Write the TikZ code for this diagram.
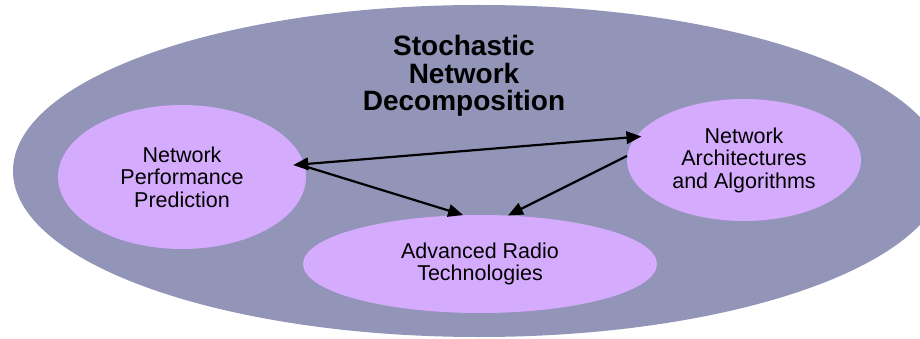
\documentclass[tikz,border=0pt]{standalone}
\usepackage{fontspec}
\setmainfont{Liberation Sans}
\usetikzlibrary{shapes.geometric,arrows.meta}
\definecolor{outerc}{RGB}{146,148,184}
\definecolor{innerc}{RGB}{213,171,253}
\tikzset{
  blob/.style={ellipse,fill=innerc,draw=none,inner sep=0pt,align=center,
    font=\fontsize{21.5}{22.5}\selectfont},
  tip/.tip={Triangle[length=15pt,width=12.5pt]},
  link/.style={line width=2.2pt,-tip},
  dlink/.style={line width=2.2pt,tip-tip}
}
\begin{document}
\begin{tikzpicture}[x=1pt,y=-1pt]
\useasboundingbox (0,0) rectangle (920,339);
\clip (0,0) rectangle (920,339);
\fill[white] (0,0) rectangle (920,339);
\fill[outerc] (479,171) ellipse [x radius=466, y radius=166];
\node[font=\fontsize{28}{27.5}\selectfont\bfseries,align=center] (title) at (464,76)
  {Stochastic\\Network\\Decomposition};
\node[blob,minimum width=248,minimum height=144] (L) at (182,177)
  {Network\\Performance\\Prediction};
\node[blob,minimum width=234,minimum height=122] (R) at (744,160)
  {Network\\Architectures\\and Algorithms};
\node[blob,minimum width=354,minimum height=98] (B) at (480,264)
  {Advanced Radio\\Technologies};
\draw[dlink,shorten <=-11pt,shorten >=-6pt] (L.6) -- (R.168);
\draw[link] (L.5) -- (B.109);
\draw[link] (R.178) -- (B.60);
\end{tikzpicture}
\end{document}
